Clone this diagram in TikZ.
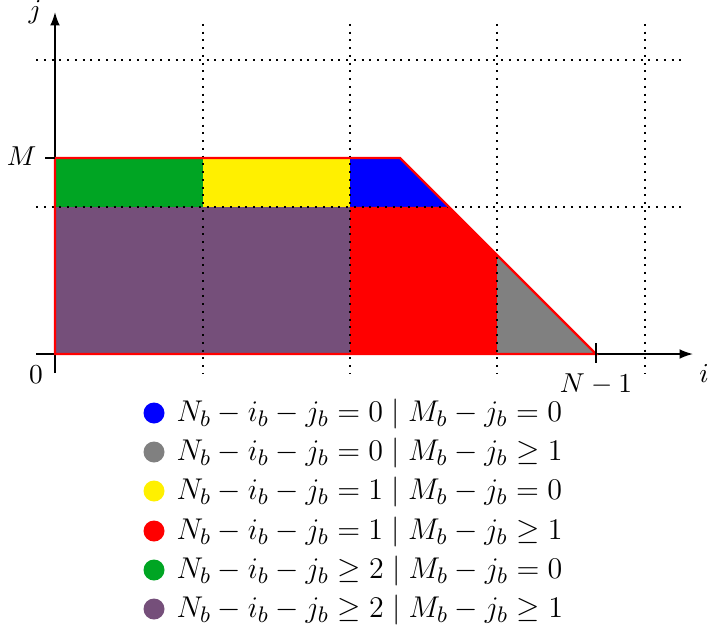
\documentclass[tikz,border=0pt]{standalone}
\usetikzlibrary{arrows.meta}
\definecolor{cgreen}{RGB}{0,165,35}
\definecolor{cyellow}{RGB}{255,240,0}
\definecolor{cpurple}{RGB}{117,79,122}
\definecolor{cgray}{RGB}{128,128,128}
\definecolor{cblue}{RGB}{0,0,255}
\definecolor{cred}{RGB}{255,0,0}
\tikzset{
  gridline/.style={line width=0.8pt, dash pattern=on 0.8pt off 2.3pt},
  axisline/.style={line width=0.65pt, -{Latex[length=5.4pt,width=3.9pt]}},
  tickline/.style={line width=0.65pt},
  border/.style={draw=cred, line width=0.9pt, line join=miter},
  lbl/.style={inner sep=0pt, anchor=base, font=\fontsize{10.8pt}{13pt}\selectfont},
  legtext/.style={inner sep=0pt, anchor=base west, font=\fontsize{12.3pt}{15pt}\selectfont},
  legdot/.style={circle, inner sep=0pt, minimum size=8.4pt},
}
\begin{document}
\begin{tikzpicture}[x=0.4pt,y=-0.4pt]
\useasboundingbox (0,0) rectangle (710,631);
% regions
\fill[cgreen] (55,158) -- (203,158) -- (203,207) -- (55,207) -- cycle;
\fill[cyellow] (203,158) -- (350,158) -- (350,207) -- (203,207) -- cycle;
\fill[cblue] (350,158) -- (400,158) -- (449,207) -- (350,207) -- cycle;
\fill[cpurple] (55,207) -- (350,207) -- (350,354) -- (55,354) -- cycle;
\fill[cred] (350,207) -- (449,207) -- (497,255) -- (497,354) -- (350,354) -- cycle;
\fill[cgray] (497,255) -- (596,354) -- (497,354) -- cycle;
% grid
\foreach \gx in {203,350,497,645} \draw[gridline] (\gx,24) -- (\gx,374);
\foreach \gy in {60,207} \draw[gridline] (36,\gy) -- (686,\gy);
% axes
\coordinate (xs) at (36,354);
\coordinate (xe) at (693,354);
\coordinate (ys) at (55,373);
\coordinate (ye) at (55,12);
\draw[axisline] (xs) -- (xe);
\draw[axisline] (ys) -- (ye);
% border
\draw[border] (55,354) -- (55,158) -- (400,158) -- (596,354) -- cycle;
% ticks
\coordinate (mt1) at (45,158);
\coordinate (mt2) at (55,158);
\coordinate (nt1) at (596,343);
\coordinate (nt2) at (596,363);
\draw[tickline] (mt1) -- (mt2);
\draw[tickline] (nt1) -- (nt2);
% labels
\node[lbl] (jl) at (35,19) {$j$};
\node[lbl] (il) at (704,382) {$i$};
\node[lbl, anchor=base east] (ml) at (37,166) {$M$};
\node[lbl] (zl) at (36,383) {$0$};
\node[lbl] (nl) at (596,392) {$N-1$};
% legend
\node[legdot, fill=cblue] (d1) at (154,413) {};
\node[legtext] (t1) at (176,421) {$N_b-i_b-j_b=0\mid M_b-j_b=0$};
\node[legdot, fill=cgray] (d2) at (154,452) {};
\node[legtext] (t2) at (176,460) {$N_b-i_b-j_b=0\mid M_b-j_b\geq1$};
\node[legdot, fill=cyellow] (d3) at (154,491) {};
\node[legtext] (t3) at (176,499) {$N_b-i_b-j_b=1\mid M_b-j_b=0$};
\node[legdot, fill=cred] (d4) at (154,531) {};
\node[legtext] (t4) at (176,539) {$N_b-i_b-j_b=1\mid M_b-j_b\geq1$};
\node[legdot, fill=cgreen] (d5) at (154,570) {};
\node[legtext] (t5) at (176,578) {$N_b-i_b-j_b\geq2\mid M_b-j_b=0$};
\node[legdot, fill=cpurple] (d6) at (154,609) {};
\node[legtext] (t6) at (176,617) {$N_b-i_b-j_b\geq2\mid M_b-j_b\geq1$};
\end{tikzpicture}
\end{document}
